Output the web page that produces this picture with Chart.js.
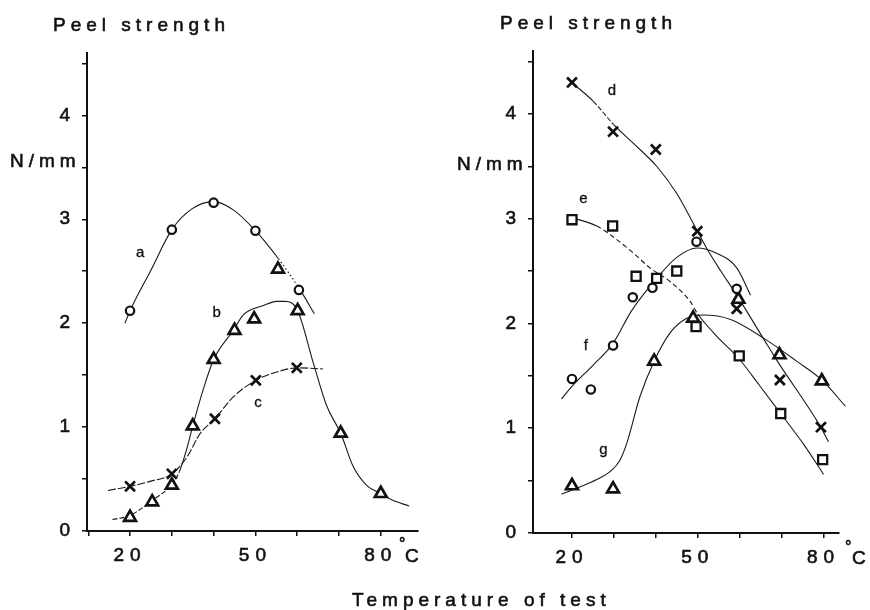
<!DOCTYPE html>
<html><head><meta charset="utf-8">
<script src="https://cdn.jsdelivr.net/npm/chart.js@4/dist/chart.umd.min.js"></script>
<style>
html,body{margin:0;padding:0;background:#fff;}
#wrap{position:relative;width:870px;height:610px;background:#fff;}
canvas{position:absolute;left:0;top:0;}
</style></head><body>
<div id="wrap"><canvas id="cL" width="870" height="610"></canvas><canvas id="cR" width="870" height="610"></canvas></div>
<script>
// ---------------- data ----------------
const xTickLabels = [20, 50, 80];
const yTickLabels = [0, 1, 2, 3, 4];
const panelTitle = 'Peel strength';
const unitLabel = 'N/mm';
const xTitle = 'Temperature of test';
const degSign = '°';
const degUnit = 'C';
const leftNames = ['a', 'b', 'c'];
const rightNames = ['d', 'e', 'f', 'g'];

// left panel: measured points [temperature, peel strength]
const aPoints = [[20,2.12],[30,2.90],[40,3.16],[50,2.89],[60.4,2.32]];
const bPoints = [[20,0.13],[25.3,0.28],[30,0.44],[35,1.01],[40,1.65],[45,1.93],[49.7,2.04],[55.4,2.52],[60.1,2.12],[70.4,0.94],[80,0.36]];
const cPoints = [[20,0.43],[30,0.55],[40.3,1.08],[50.1,1.45],[59.9,1.57]];
// left panel: drawn curves
const aCurve = [[18.8,2.00],[20,2.12],[25,2.51],[30,2.90],[34.8,3.10],[40,3.17],[44.7,3.09],[50,2.89],[55.5,2.62],[60.7,2.32],[64.1,2.09]];
const bCurve = [[15.8,0.11],[20,0.15],[25.2,0.29],[30,0.45],[31.8,0.57],[33.5,0.78],[35,1.01],[37.5,1.36],[40,1.65],[44.7,1.93],[47.1,2.08],[51.9,2.17],[55.1,2.21],[57.1,2.21],[60.1,2.12],[63.9,1.61],[67.1,1.20],[70.4,0.94],[73.4,0.62],[76.6,0.44],[80,0.36],[82.6,0.30],[86.8,0.24]];
const cCurve = [[14.7,0.39],[20,0.43],[25,0.48],[30,0.55],[33.6,0.71],[36.8,0.94],[40.3,1.08],[44.7,1.29],[50.1,1.45],[55.1,1.53],[59.9,1.57],[66.1,1.56]];

// right panel: measured points
const dPoints = [[20,4.30],[29.8,3.83],[40,3.66],[49.9,2.88],[59.3,2.14],[69.6,1.46],[79.4,1.01]];
const ePoints = [[20,2.99],[29.7,2.93],[35.3,2.45],[40.2,2.43],[45,2.50],[49.6,1.97],[59.9,1.69],[69.8,1.14],[79.8,0.70]];
const fPoints = [[20,1.47],[24.5,1.37],[29.8,1.79],[34.5,2.25],[39.2,2.34],[49.7,2.78],[59.3,2.33]];
const gPoints = [[20,0.45],[29.8,0.42],[39.6,1.64],[48.9,2.05],[59.7,2.23],[69.5,1.70],[79.6,1.45]];
// right panel: drawn curves
const dCurve = [[19.9,4.30],[25.1,4.12],[29.9,3.90],[34.6,3.72],[40.2,3.50],[45,3.24],[48.6,2.98],[52.1,2.72],[55.5,2.50],[59.3,2.27],[65.6,1.86],[69,1.64],[79.2,1.02],[81.2,0.87]];
const eCurve = [[20,3.01],[25.9,2.93],[29.7,2.83],[34.7,2.67],[38.6,2.53],[43.4,2.40],[48.2,2.21],[50,2.09],[54.5,1.88],[59.7,1.67],[64.7,1.41],[69.6,1.15],[75.2,0.85],[80,0.56]];
const fCurve = [[17.5,1.28],[20,1.40],[25,1.60],[29.8,1.81],[34.2,2.12],[40.2,2.43],[45,2.63],[49.8,2.72],[54.5,2.67],[59.3,2.53],[62.6,2.27]];
const gCurve = [[17.5,0.37],[20,0.41],[25.9,0.51],[29.5,0.60],[31.5,0.70],[33.1,0.86],[36.2,1.30],[39.6,1.64],[43.4,1.91],[47.4,2.05],[51.3,2.08],[57.7,2.04],[65.7,1.86],[73.6,1.64],[79.9,1.45],[85.2,1.21]];

// ---------------- styling ----------------
const FONT = '"Liberation Sans", Arial, Helvetica, sans-serif';
const INK = '#111';
const toXY = arr => arr.map(p => ({x: p[0], y: p[1]}));

const markerStyles = {
  circle:   {pointStyle: 'circle',   pointRadius: 4.2, pointBorderWidth: 2.2},
  triangle: {pointStyle: 'triangle', pointRadius: 6.8, pointBorderWidth: 2.7},
  cross:    {pointStyle: 'crossRot', pointRadius: 7,   pointBorderWidth: 2.7},
  square:   {pointStyle: 'rect',     pointRadius: 6.4, pointBorderWidth: 2.3}
};
function markers(pts, kind) {
  return Object.assign({
    data: toXY(pts), showLine: false, clip: false,
    pointBackgroundColor: '#fff', pointBorderColor: INK
  }, markerStyles[kind]);
}
function curve(pts, dashRange, dash) {
  const ds = {
    data: toXY(pts), showLine: true, clip: false, pointRadius: 0,
    borderColor: '#1a1a1a', borderWidth: 1.1, cubicInterpolationMode: 'monotone', fill: false
  };
  if (dashRange) {
    ds.segment = {
      borderDash: c => (c.p0.parsed.x >= dashRange[0] - 0.01 && c.p1.parsed.x <= dashRange[1] + 0.01) ? dash : undefined
    };
  }
  return ds;
}

function scalesFor(xmin, xmax, yAxisWidth, xAxisHeight) {
  const gridCfg = {drawOnChartArea: false, drawTicks: true, tickLength: 5, color: INK, lineWidth: 1.5};
  const tickFont = {family: FONT, size: 19};
  return {
    x: {
      type: 'linear', min: xmin, max: xmax,
      afterFit: s => { s.height = xAxisHeight; },
      grid: gridCfg, border: {color: INK, width: 2},
      ticks: {
        stepSize: 10, includeBounds: false, autoSkip: false, maxRotation: 0, minRotation: 0,
        padding: 8, color: INK, font: tickFont, textStrokeColor: INK, textStrokeWidth: 0.6,
        callback: v => xTickLabels.includes(v) ? String(v) : ''
      }
    },
    y: {
      type: 'linear', min: 0, max: 4.6,
      afterFit: s => { s.width = yAxisWidth; },
      grid: gridCfg, border: {color: INK, width: 2},
      ticks: {
        stepSize: 0.5, includeBounds: false, padding: 6, color: INK, font: tickFont,
        textStrokeColor: INK, textStrokeWidth: 0.6,
        callback: v => yTickLabels.includes(v) ? String(v) : ''
      }
    }
  };
}

function textPlugin(itemsFn) {
  return {
    id: 'freeText',
    beforeDraw(chart) { chart.ctx.letterSpacing = '6px'; },
    afterDraw(chart) {
      const ctx = chart.ctx;
      ctx.save();
      for (const it of itemsFn(chart)) {
        ctx.font = it.size + 'px ' + FONT;
        ctx.letterSpacing = (it.sp || 0) + 'px';
        ctx.fillStyle = INK;
        ctx.strokeStyle = INK;
        ctx.lineWidth = it.stroke || 0.6;
        ctx.textAlign = it.align || 'left';
        ctx.textBaseline = it.base || 'alphabetic';
        ctx.fillText(it.text, it.x, it.y);
        ctx.strokeText(it.text, it.x, it.y);
      }
      ctx.restore();
    }
  };
}
function atData(chart, name, tx, v) {
  return {text: name, x: chart.scales.x.getPixelForValue(tx), y: chart.scales.y.getPixelForValue(v),
          size: 15, align: 'center', base: 'middle', stroke: 0.3};
}

// ---------------- left panel ----------------
new Chart(document.getElementById('cL'), {
  type: 'line',
  data: {datasets: [
    markers(aPoints, 'circle'),
    markers(bPoints, 'triangle'),
    markers(cPoints, 'cross'),
    curve(aCurve, [55.5, 60.7], [1.5, 2.5]),
    curve(bCurve, [15.8, 31.8], [5, 2]),
    curve(cCurve, [14.7, 66.1], [8, 2])
  ]},
  options: {
    responsive: false, animation: false, devicePixelRatio: 1,
    events: [],
    plugins: {legend: {display: false}, tooltip: {enabled: false}, title: {display: false}},
    layout: {padding: {left: 0, top: 53, right: 452, bottom: 0}},
    scales: scalesFor(9.7, 88.9, 87, 79)
  },
  plugins: [textPlugin(ch => [
    {text: panelTitle, x: 53, y: 31, size: 19, sp: 5},
    {text: unitLabel, x: 10, y: 167, size: 19, sp: 5},
    {text: degSign, x: 399, y: 549, size: 16},
    {text: degUnit, x: 405, y: 562, size: 19},
    atData(ch, leftNames[0], 22.4, 2.68),
    atData(ch, leftNames[1], 40.7, 2.10),
    atData(ch, leftNames[2], 50.6, 1.23)
  ])]
});

// ---------------- right panel ----------------
new Chart(document.getElementById('cR'), {
  type: 'line',
  data: {datasets: [
    markers(dPoints, 'cross'),
    markers(ePoints, 'square'),
    markers(fPoints, 'circle'),
    markers(gPoints, 'triangle'),
    curve(dCurve, [22, 29.9], [5, 2]),
    curve(eCurve, [25.9, 50], [5, 3]),
    curve(fCurve),
    curve(gCurve)
  ]},
  options: {
    responsive: false, animation: false, devicePixelRatio: 1,
    events: [],
    plugins: {legend: {display: false}, tooltip: {enabled: false}, title: {display: false}},
    layout: {padding: {left: 446, top: 51, right: 31, bottom: 0}},
    scales: scalesFor(10.7, 83.7, 87, 77)
  },
  plugins: [textPlugin(ch => [
    {text: panelTitle, x: 500, y: 29, size: 19, sp: 5},
    {text: unitLabel, x: 457, y: 170, size: 19, sp: 5},
    {text: degSign, x: 845, y: 552, size: 16},
    {text: degUnit, x: 852, y: 564, size: 19},
    {text: xTitle, x: 352, y: 606, size: 19, sp: 5},
    atData(ch, rightNames[0], 29.5, 4.22),
    atData(ch, rightNames[1], 22.7, 3.19),
    atData(ch, rightNames[2], 23.3, 1.79),
    atData(ch, rightNames[3], 27.5, 0.79)
  ])]
});
</script>
</body></html>
